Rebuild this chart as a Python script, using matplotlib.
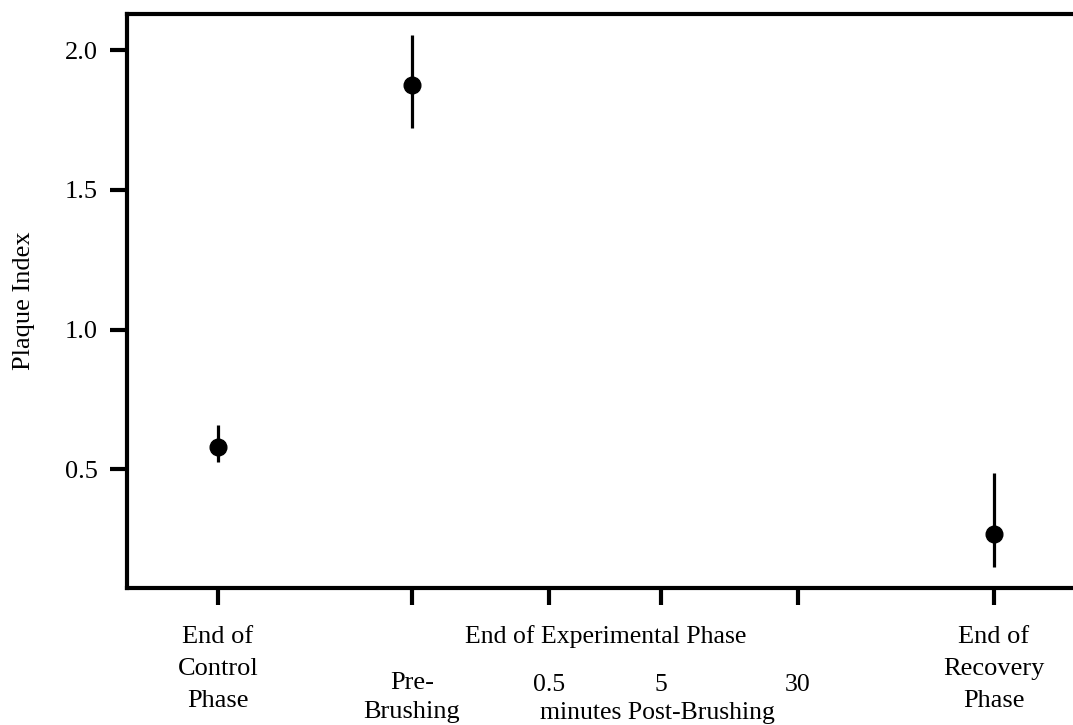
import numpy as np
import matplotlib.pyplot as plt

plt.rcParams['font.family'] = ['Liberation Serif', 'DejaVu Serif']

# time points (the middle three are minutes post-brushing)
tick_names = ['control', 'pre', '0.5', '5', '30', 'recovery']
tick_x = [1.0, 2.0, 2.706, 3.284, 3.99, 5.0]

# plaque index: mean with upper / lower whisker ends
groups = ['control', 'pre', 'recovery']
mean = np.array([0.579, 1.875, 0.268])
upper = np.array([0.657, 2.054, 0.486])
lower = np.array([0.525, 1.721, 0.150])

gx = np.array([tick_x[tick_names.index(g)] for g in groups])

fig = plt.figure(figsize=(10.73, 7.25), dpi=100)
ax = fig.add_axes([127/1073, 1-588/725, 1-127/1073, (588-14)/725])

ax.errorbar(gx, mean, yerr=[mean-lower, upper-mean], fmt='o', color='black',
            ecolor='black', elinewidth=2.3, capsize=0, markersize=12)

ax.set_xlim(0.531, 5.407)
ax.set_ylim(0.075, 2.129)
ax.set_yticks([0.5, 1.0, 1.5, 2.0])
ax.set_yticklabels(['0.5', '1.0', '1.5', '2.0'])
ax.set_xticks(tick_x)
ax.set_xticklabels([])

for s in ['left', 'bottom', 'top']:
    ax.spines[s].set_linewidth(3)
ax.spines['right'].set_visible(False)
ax.tick_params(width=3, length=12, labelsize=19, pad=9)

ax.set_ylabel('Plaque Index', fontsize=19)
ax.yaxis.set_label_coords(-0.097, 0.5)


def label(x, text, base_px, size=19):
    # base_px: baseline height, counted down from the top of the figure
    ax.annotate(text, xy=(x, 0), xycoords=('data', 'axes fraction'),
                xytext=(0, -(base_px - 588)*0.72), textcoords='offset points',
                ha='center', va='baseline', fontsize=size)


for line, y in zip(['End of', 'Control', 'Phase'], [643, 675, 707]):
    label(tick_x[0], line, y)
for line, y in zip(['End of', 'Recovery', 'Phase'], [643, 675, 707]):
    label(tick_x[5], line, y)
label(tick_x[1], 'Pre-', 689)
label(tick_x[1], 'Brushing', 718)
label(3.0, 'End of Experimental Phase', 643, 18.5)
for i, t in zip([2, 3, 4], ['0.5', '5', '30']):
    label(tick_x[i], t, 691, 18.5)
label(3.263, 'minutes Post-Brushing', 719, 18.5)

fig.savefig('out.png', dpi=100)
